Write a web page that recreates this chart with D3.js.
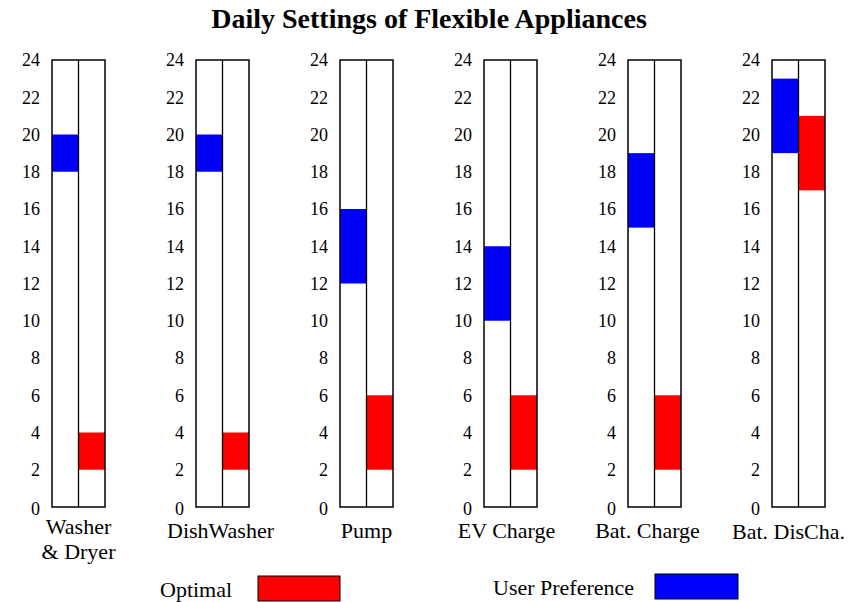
<!DOCTYPE html>
<html><head><meta charset="utf-8">
<script src="https://cdn.jsdelivr.net/npm/d3@7"></script>
<style>body{margin:0;background:#fff}svg{display:block}text{font-family:"Liberation Serif","Times New Roman",serif}</style>
</head><body><svg id="c" width="848" height="602"></svg>
<script>
const categories = ["Washer\n& Dryer","DishWasher","Pump","EV Charge","Bat. Charge","Bat. DisCha."];
const prefStart = [18,18,12,10,15,19];
const prefEnd   = [20,20,16,14,19,23];
const optStart  = [2,2,2,2,2,17];
const optEnd    = [4,4,6,6,6,21];
const yTicks = [0,2,4,6,8,10,12,14,16,18,20,22,24];
const title = "Daily Settings of Flexible Appliances";

const svg = d3.select("#c");
svg.append("text").attr("x",429).attr("y",28).attr("text-anchor","middle")
  .attr("font-size",28).attr("font-weight","bold").text(title);

const y = d3.scaleLinear().domain([0,24]).range([507,60]);
const panelX = d3.scaleBand().domain(d3.range(categories.length)).range([52,916]).paddingInner(0);
const colX = d3.scaleBand().domain(["pref","opt"]).range([0,53]);
// label layout tweaks (pixels) to mirror reference placement
const labelShift = [0,-2,0,-4,-7,-10];
const labelBase  = [534,538,538,538,538,539];

categories.forEach((cat,i)=>{
  const g = svg.append("g").attr("transform",`translate(${panelX(i)},0)`);
  g.append("rect").attr("x",colX("pref")).attr("width",colX.bandwidth())
    .attr("y",y(prefEnd[i])).attr("height",y(prefStart[i])-y(prefEnd[i])).attr("fill","#0000ff");
  g.append("rect").attr("x",colX("opt")).attr("width",colX.bandwidth())
    .attr("y",y(optEnd[i])).attr("height",y(optStart[i])-y(optEnd[i])).attr("fill","#ff0000");
  g.append("rect").attr("x",0).attr("y",y(24)).attr("width",53).attr("height",y(0)-y(24))
    .attr("fill","none").attr("stroke","#000").attr("stroke-width",1.5);
  g.append("line").attr("x1",colX("opt")).attr("x2",colX("opt")).attr("y1",y(24)).attr("y2",y(0))
    .attr("stroke","#000").attr("stroke-width",1.3);
  const ax = g.append("g").call(d3.axisLeft(y).tickValues(yTicks).tickSize(0).tickPadding(12));
  ax.select(".domain").remove();
  ax.selectAll("text").attr("font-size",18).attr("font-family","Liberation Serif, serif").attr("fill","#000")
    .attr("dy", d => d===0 ? "0.4em" : "0.32em");
  const lines = cat.split("\n");
  const cx = 26.5 + labelShift[i];
  const t = g.append("text").attr("x",cx).attr("text-anchor","middle").attr("font-size",22);
  lines.forEach((l,k)=>{
    t.append("tspan").attr("x",cx).attr("y", labelBase[i]+k*25).text(l);
  });
});

// legend
svg.append("text").attr("x",160).attr("y",597).attr("font-size",22).text("Optimal");
svg.append("rect").attr("x",258).attr("y",576).attr("width",82).attr("height",25).attr("fill","#ff0000").attr("stroke","#000").attr("stroke-width",1);
svg.append("text").attr("x",493).attr("y",595).attr("font-size",22).text("User Preference");
svg.append("rect").attr("x",655).attr("y",574).attr("width",83).attr("height",25).attr("fill","#0000ff").attr("stroke","#000").attr("stroke-width",1);
</script></body></html>
